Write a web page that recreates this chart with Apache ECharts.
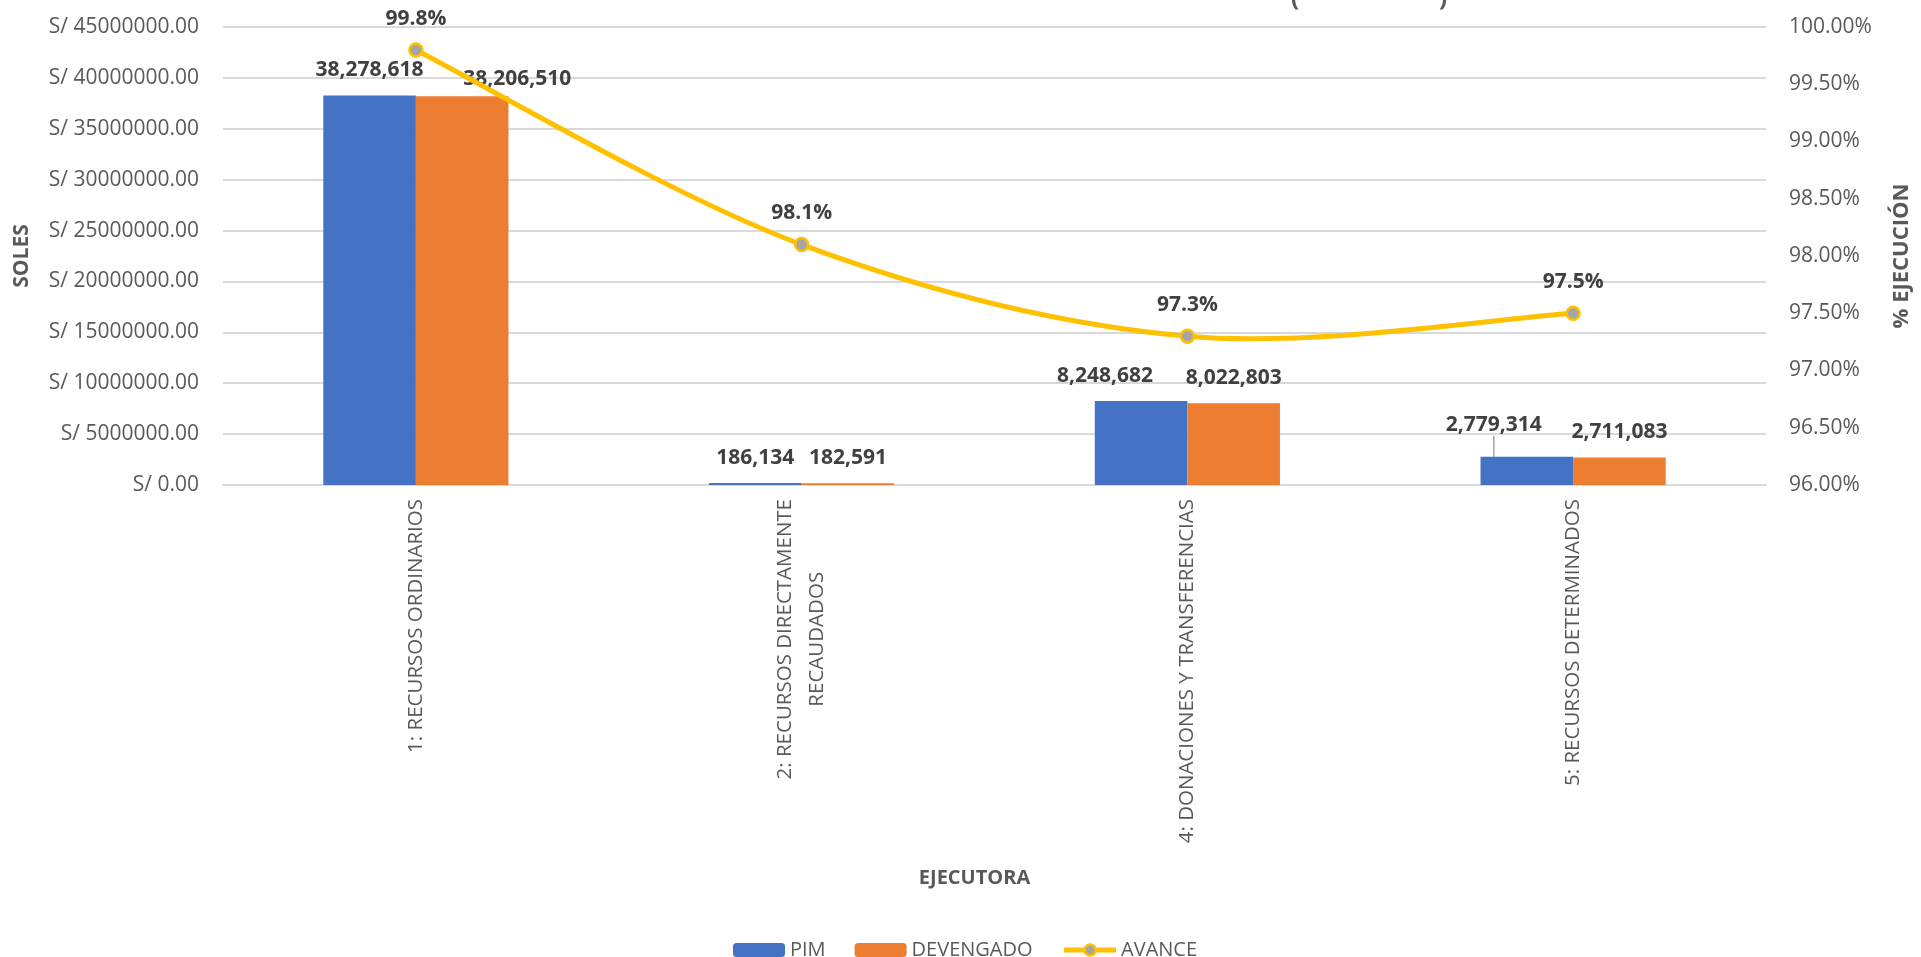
<!DOCTYPE html>
<html>
<head>
<meta charset="utf-8">
<script src="https://cdn.jsdelivr.net/npm/echarts@6/dist/echarts.min.js"></script>
<style>
html,body{margin:0;padding:0;background:#fff;}
#chart{width:1921px;height:957px;}
</style>
</head>
<body>
<div id="chart"></div>
<script>
// ---- data ----
const categories = ['1: RECURSOS ORDINARIOS', '2: RECURSOS DIRECTAMENTE\nRECAUDADOS', '4: DONACIONES Y TRANSFERENCIAS', '5: RECURSOS DETERMINADOS'];
const pim = [38278618, 186134, 8248682, 2779314];
const devengado = [38206510, 182591, 8022803, 2711083];
const avance = [99.8, 98.1, 97.3, 97.5];
const avanceLabels = ['99.8%', '98.1%', '97.3%', '97.5%'];
const leftTicks = {min: 0, max: 45000000, interval: 5000000};
const rightTicks = {min: 96, max: 100, interval: 0.5};

// label nudges (layout only)
const pimShift = [[0, 0], [0, 0], [-36, 0], [-33, -6]];
const devShift = [[55, 8], [0, 0], [0, 0], [0, 0]];

const FONT = '"Open Sans", "Liberation Sans", sans-serif';
const GRAY = '#595959';
const DARK = '#404040';
const GOLD = '#FFC000';
const CAT_FS = 20.5;

// measure text for centering the wrapped category label
const cv = document.createElement('canvas').getContext('2d');
cv.font = CAT_FS + 'px "Open Sans"';
function w(t){ return cv.measureText(t).width; }
const cat2 = categories[1].split('\n');
const padR = Math.max(0, (w(cat2[0]) - w(cat2[1])) / 2);

const chart = echarts.init(document.getElementById('chart'));
const fmtNum = v => Math.round(v).toLocaleString('en-US');

chart.setOption({
  backgroundColor: '#ffffff',
  animation: false,
  textStyle: {fontFamily: FONT},
  title: [
    {text: '(', left: 1286, top: -18, textStyle: {fontSize: 24, fontWeight: 'bold', color: GRAY, fontFamily: FONT}},
    {text: ')', left: 1434, top: -18, textStyle: {fontSize: 24, fontWeight: 'bold', color: GRAY, fontFamily: FONT}}
  ],
  grid: {left: 223, right: 144, top: 27, bottom: 472, containLabel: false},
  legend: {
    left: 728, top: 935,
    itemWidth: 52, itemHeight: 14, itemGap: 29,
    textStyle: {fontSize: 20, color: GRAY, fontFamily: FONT},
    data: [
      {name: 'PIM'},
      {name: 'DEVENGADO'},
      {name: 'AVANCE', lineStyle: {color: GOLD, width: 5, opacity: 1}, itemStyle: {color: '#A5A5A5', borderColor: GOLD, borderWidth: 2.5}}
    ]
  },
  xAxis: {
    type: 'category',
    data: categories,
    name: 'EJECUTORA',
    nameLocation: 'middle',
    nameGap: 383,
    nameTextStyle: {fontSize: 20, fontWeight: 'bold', color: GRAY, fontFamily: FONT, padding: [0, 40, 0, 0]},
    axisLine: {lineStyle: {color: '#D9D9D9', width: 2}},
    axisTick: {show: false},
    axisLabel: {
      rotate: 90, margin: 14, interval: 0,
      fontSize: CAT_FS, lineHeight: 32, color: GRAY, fontFamily: FONT,
      formatter: function (v) {
        if (v.indexOf('\n') < 0) return v;
        const parts = v.split('\n');
        return parts[0] + '\n{p|' + parts[1] + '}';
      },
      rich: {p: {fontSize: CAT_FS, lineHeight: 32, color: GRAY, fontFamily: FONT, padding: [0, padR, 0, 0]}}
    }
  },
  yAxis: [
    {
      type: 'value',
      min: leftTicks.min, max: leftTicks.max, interval: leftTicks.interval,
      name: 'SOLES', nameLocation: 'middle', nameGap: 190, nameRotate: 90,
      nameTextStyle: {fontSize: 21, fontWeight: 'bold', color: GRAY, fontFamily: FONT},
      axisLine: {show: false}, axisTick: {show: false},
      axisLabel: {fontSize: 21, color: GRAY, fontFamily: FONT, margin: 24,
        formatter: v => 'S/ ' + v + '.00'},
      splitLine: {lineStyle: {color: '#D9D9D9', width: 2}}
    },
    {
      type: 'value',
      min: rightTicks.min, max: rightTicks.max, interval: rightTicks.interval,
      name: '% EJECUCIÓN', nameLocation: 'middle', nameGap: 125, nameRotate: 90,
      nameTextStyle: {fontSize: 22, fontWeight: 'bold', color: GRAY, fontFamily: FONT},
      axisLine: {show: false}, axisTick: {show: false},
      axisLabel: {fontSize: 21, color: GRAY, fontFamily: FONT, margin: 23,
        formatter: v => v.toFixed(2) + '%'},
      splitLine: {show: false}
    }
  ],
  series: [
    {
      name: 'PIM', type: 'bar', yAxisIndex: 0,
      barGap: '0%', barCategoryGap: '52%',
      itemStyle: {color: '#4472C4'},
      data: pim.map((v, i) => ({value: v, labelLine: {show: i === 3}})),
      label: {show: true, position: 'top', distance: 15, fontSize: 21, fontWeight: 'bold', color: DARK, fontFamily: FONT,
        formatter: p => fmtNum(p.value)},
      labelLine: {show: false, lineStyle: {color: '#A6A6A6', width: 1.5}},
      labelLayout: p => ({dx: pimShift[p.dataIndex][0], dy: pimShift[p.dataIndex][1]})
    },
    {
      name: 'DEVENGADO', type: 'bar', yAxisIndex: 0,
      itemStyle: {color: '#ED7D31'},
      data: devengado,
      label: {show: true, position: 'top', distance: 15, fontSize: 21, fontWeight: 'bold', color: DARK, fontFamily: FONT,
        formatter: p => fmtNum(p.value)},
      labelLayout: p => ({dx: devShift[p.dataIndex][0], dy: devShift[p.dataIndex][1]})
    },
    {
      name: 'AVANCE', type: 'line', yAxisIndex: 1,
      data: avance,
      symbol: 'circle', symbolSize: 13,
      lineStyle: {color: GOLD, width: 5, opacity: 0},
      itemStyle: {color: '#A5A5A5', borderColor: GOLD, borderWidth: 2.5},
      label: {show: true, position: 'top', distance: 13, fontSize: 21, fontWeight: 'bold', color: DARK, fontFamily: FONT,
        formatter: p => avanceLabels[p.dataIndex]},
      z: 5
    }
  ]
});

// Excel-like smoothed curve (Catmull-Rom -> Bezier) through the chart's own scales
const pts = avance.map((v, i) => chart.convertToPixel({xAxisIndex: 0, yAxisIndex: 1}, [i, v]));
const n = pts.length;
const curves = [];
for (let i = 0; i < n - 1; i++) {
  const p0 = pts[Math.max(0, i - 1)], p1 = pts[i], p2 = pts[i + 1], p3 = pts[Math.min(n - 1, i + 2)];
  curves.push({
    type: 'bezierCurve', silent: true, z: 4,
    shape: {
      x1: p1[0], y1: p1[1], x2: p2[0], y2: p2[1],
      cpx1: p1[0] + (p2[0] - p0[0]) / 6, cpy1: p1[1] + (p2[1] - p0[1]) / 6,
      cpx2: p2[0] - (p3[0] - p1[0]) / 6, cpy2: p2[1] - (p3[1] - p1[1]) / 6
    },
    style: {stroke: GOLD, lineWidth: 5, fill: null, lineCap: 'round'}
  });
}
chart.setOption({graphic: curves});
</script>
</body>
</html>
